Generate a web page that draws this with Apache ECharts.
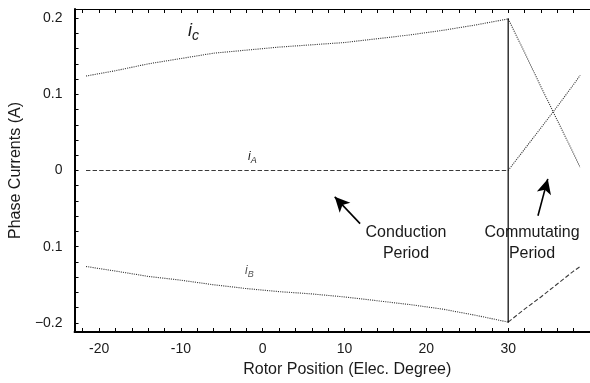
<!DOCTYPE html>
<html>
<head>
<meta charset="utf-8">
<script src="https://cdn.jsdelivr.net/npm/echarts@6/dist/echarts.min.js"></script>
<style>
html,body{margin:0;padding:0;background:#fff;}
#c{width:590px;height:383px;}
</style>
</head>
<body>
<div id="c"></div>
<script>
// ---- data ----
var xCond = [-21.6, -18, -14, -10, -6, -2, 2, 6, 10, 14, 18, 22, 26, 30];
var icCond = [0.124, 0.131, 0.140, 0.147, 0.154, 0.158, 0.162, 0.165, 0.168, 0.173, 0.178, 0.184, 0.191, 0.199];
var iaCond = [0, 0, 0, 0, 0, 0, 0, 0, 0, 0, 0, 0, 0, 0];
var ibCond = [-0.126, -0.132, -0.139, -0.144, -0.150, -0.155, -0.159, -0.162, -0.166, -0.171, -0.176, -0.182, -0.190, -0.199];

var xComm = [30, 32, 34, 36, 38, 38.8];
var icComm = [0.199, 0.155, 0.110, 0.066, 0.022, 0.004];
var iaComm = [0, 0.028, 0.056, 0.084, 0.113, 0.125];
var ibComm = [-0.199, -0.182, -0.166, -0.149, -0.132, -0.126];

var divX = [30, 30];
var divY = [0.2, -0.2];

var xTickValues = [-20, -10, 0, 10, 20, 30];
var xTickLabels = ['-20', '-10', '0', '10', '20', '30'];
var yTickValues = [-0.2, -0.1, 0, 0.1, 0.2];
var yTickLabels = ['\u22120.2', '0.1', '0', '0.1', '0.2'];

// arrows (data coords): [tailX, tailY, tipX, tipY]
var conductionArrow = [11.9, -0.0698, 8.8, -0.0346];
var commutatingArrow = [33.64, -0.0594, 34.84, -0.011];

// ---- helpers ----
function zip(xs, ys) { return xs.map(function (x, i) { return [x, ys[i]]; }); }
var xMinor = []; for (var v = -22; v <= 40; v += 2) xMinor.push(v);
var yMinor = []; for (var k = -10; k <= 10; k++) yMinor.push(Math.round(k * 0.02 * 1000) / 1000);

var FONT = '"Liberation Sans", Arial, sans-serif';
var INK = '#1a1a1a';
var lineCol = '#3a3a3a';

function curve(name, xs, ys, type) {
  return {
    name: name, type: 'line', data: zip(xs, ys), showSymbol: false, symbol: 'none',
    lineStyle: { color: lineCol, width: 1.1, type: type }, animation: false, silent: true
  };
}
function arrow(a) {
  return [{ coord: [a[0], a[1]], symbol: 'none' }, { coord: [a[2], a[3]], symbol: 'arrow' }];
}

var chart = echarts.init(document.getElementById('c'), null, { renderer: 'canvas' });
chart.setOption({
  backgroundColor: '#fff',
  animation: false,
  grid: { left: 67, top: 9, right: -2, bottom: 49, containLabel: false },
  xAxis: [{
    type: 'value', min: -23, max: 40, position: 'bottom',
    name: 'Rotor Position (Elec. Degree)', nameLocation: 'middle', nameGap: 30,
    nameTextStyle: { fontFamily: FONT, fontSize: 16, color: INK, padding: [0, 0, 0, 30] },
    axisLine: { show: true, onZero: false, lineStyle: { color: '#000', width: 2 } },
    axisTick: { show: true, inside: true, length: 4, customValues: xMinor, lineStyle: { color: '#000' } },
    axisLabel: { fontFamily: FONT, fontSize: 14, color: INK, margin: 10, customValues: xTickValues,
      formatter: function (val) { var i = xTickValues.indexOf(val); return i >= 0 ? xTickLabels[i] : ''; } },
    splitLine: { show: false }
  }, {
    type: 'value', min: -23, max: 40, position: 'top',
    axisLine: { show: true, onZero: false, lineStyle: { color: '#000', width: 1.2 } },
    axisTick: { show: true, inside: true, length: 4, customValues: xMinor, lineStyle: { color: '#000' } },
    axisLabel: { show: false }, splitLine: { show: false }
  }],
  yAxis: [{
    type: 'value', min: -0.212, max: 0.212, position: 'left',
    name: 'Phase Currents (A)', nameLocation: 'middle', nameGap: 33,
    nameTextStyle: { fontFamily: FONT, fontSize: 16, color: INK, padding: [0, 0, 9, 0] },
    axisLine: { show: true, onZero: false, lineStyle: { color: '#000', width: 2 } },
    axisTick: { show: true, inside: true, length: 4, customValues: yMinor, lineStyle: { color: '#000' } },
    axisLabel: { fontFamily: FONT, fontSize: 14, color: INK, margin: 12, customValues: yTickValues,
      formatter: function (val) {
        for (var i = 0; i < yTickValues.length; i++) if (Math.abs(yTickValues[i] - val) < 1e-9) return yTickLabels[i];
        return '';
      } },
    splitLine: { show: false }
  }],
  series: [
    curve('ic', xCond, icCond, 'dotted'),
    curve('ia', xCond, iaCond, 'dashed'),
    curve('ib', xCond, ibCond, 'dotted'),
    curve('ic2', xComm, icComm, 'dotted'),
    curve('ia2', xComm, iaComm, 'dotted'),
    curve('ib2', xComm, ibComm, 'dashed'),
    {
      name: 'div', type: 'line', data: zip(divX, divY), showSymbol: false, symbol: 'none',
      lineStyle: { color: '#000', width: 1.2 }, silent: true, animation: false,
      markLine: {
        silent: true, animation: false, symbolSize: [11, 15],
        label: { show: false },
        lineStyle: { color: '#000', width: 1.6, type: 'solid' },
        data: [arrow(conductionArrow), arrow(commutatingArrow)]
      }
    }
  ],
  graphic: [
    { type: 'text', left: 188, top: 22, silent: true,
      style: { text: '{i|i}{s|c}', rich: {
        i: { fontFamily: FONT, fontStyle: 'italic', fontSize: 18, fill: INK },
        s: { fontFamily: FONT, fontStyle: 'italic', fontSize: 14, fill: INK, padding: [10, 0, 0, 0] } } } },
    { type: 'text', left: 248, top: 151, silent: true,
      style: { text: '{i|i}{s|A}', rich: {
        i: { fontFamily: FONT, fontStyle: 'italic', fontSize: 12, fill: INK },
        s: { fontFamily: FONT, fontStyle: 'italic', fontSize: 9, fill: INK, padding: [6, 0, 0, 0] } } } },
    { type: 'text', left: 245, top: 265, silent: true,
      style: { text: '{i|i}{s|B}', rich: {
        i: { fontFamily: FONT, fontStyle: 'italic', fontSize: 12, fill: '#555' },
        s: { fontFamily: FONT, fontStyle: 'italic', fontSize: 9, fill: '#555', padding: [6, 0, 0, 0] } } } },
    { type: 'text', x: 406, y: 222, silent: true,
      style: { text: 'Conduction\nPeriod', fontFamily: FONT, fontSize: 16, lineHeight: 21, fill: INK, align: 'center' } },
    { type: 'text', x: 532, y: 222, silent: true,
      style: { text: 'Commutating\nPeriod', fontFamily: FONT, fontSize: 16, lineHeight: 21, fill: INK, align: 'center' } }
  ]
});
</script>
</body>
</html>
